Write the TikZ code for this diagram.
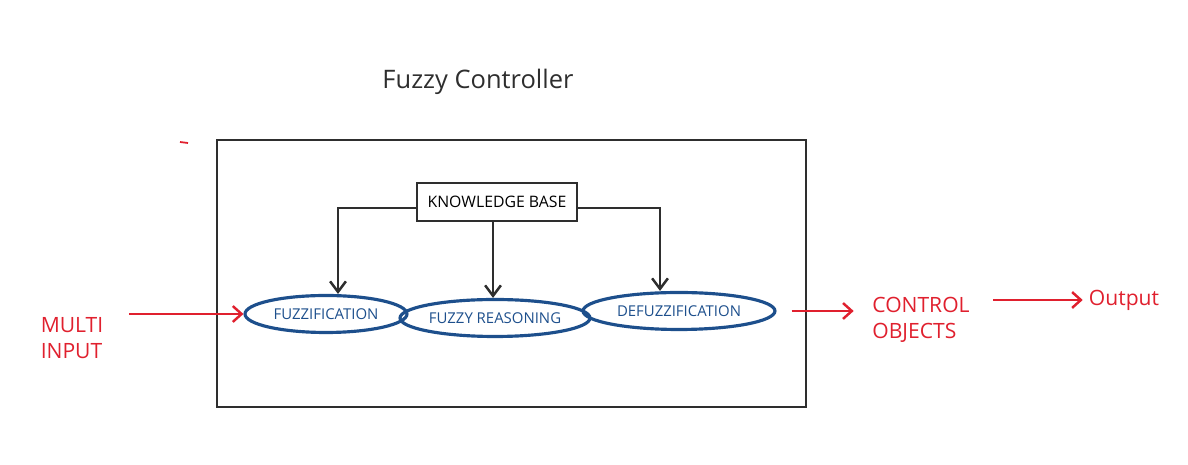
\documentclass[tikz,border=0pt]{standalone}
\usepackage{fontspec}
\setmainfont{Open Sans}
\usetikzlibrary{arrows.meta, shapes.geometric}
\definecolor{inkblue}{HTML}{1D4F8C}
\definecolor{inkred}{HTML}{E0202E}
\definecolor{inkgray}{HTML}{2E2E2E}
\begin{document}
\begin{tikzpicture}[x=0.02cm, y=-0.02cm]
    \tikzstyle{block} = [rectangle, draw=inkgray, line width=1.5pt, minimum width=3.2cm, minimum height=0.76cm, align=center, font=\fontsize{9}{10}\selectfont]
    \tikzstyle{stage} = [ellipse, draw=inkblue, line width=1.8pt, minimum height=0.74cm, inner sep=0pt, text=inkblue, font=\fontsize{8.5}{9}\selectfont]
    \tikzstyle{kbarrow} = [-{Straight Barb[length=6pt, width=9pt]}, draw=inkgray, line width=1.4pt]
    \tikzstyle{redarrow} = [-{Straight Barb[length=5pt, width=9pt]}, draw=inkred, line width=1.4pt]
    \tikzstyle{redtext} = [text=inkred, align=left, font=\fontsize{12}{15}\selectfont]
    \useasboundingbox (0,0) rectangle (1188,465);

    \node[font=\fontsize{14.5}{17}\selectfont, text=inkgray] (Title) at (478, 82) {Fuzzy Controller};
    \draw[inkgray, line width=1.5pt] (217,140) rectangle (806,407);
    \draw[inkred, line width=1pt] (180,142) -- (188,143);

    \node[block] (KB) at (497, 202) {KNOWLEDGE BASE};
    \node[stage, minimum width=3.24cm] (F1) at (326, 314) {FUZZIFICATION};
    \node[stage, minimum width=3.8cm] (F2) at (495, 318) {FUZZY REASONING};
    \node[stage, minimum width=3.84cm] (F3) at (679, 311) {DEFUZZIFICATION};

    \draw[kbarrow] ([yshift=-0.12cm]KB.west) -| ([xshift=0.24cm]F1.north);
    \draw[kbarrow] ([xshift=-0.08cm]KB.south) -- ([xshift=-0.08cm]KB.south |- F2.north);
    \draw[kbarrow] ([yshift=-0.12cm]KB.east) -| ([xshift=-0.38cm]F3.north);

    \node[redtext] (MI) at (72, 338) {MULTI\\INPUT};
    \node[redtext] (CO) at (921, 320) {CONTROL\\OBJECTS};
    \node[redtext] (Out) at (1124, 300) {Output};

    \draw[redarrow] ([xshift=0.4cm]MI.east |- F1.west) -- (F1.west);
    \draw[redarrow] ([xshift=0.3cm]F3.east) -- ([xshift=-0.25cm]F3.east -| CO.west);
    \draw[redarrow] ([xshift=0.35cm]CO.east |- Out.west) -- (Out.west);
\end{tikzpicture}
\end{document}
